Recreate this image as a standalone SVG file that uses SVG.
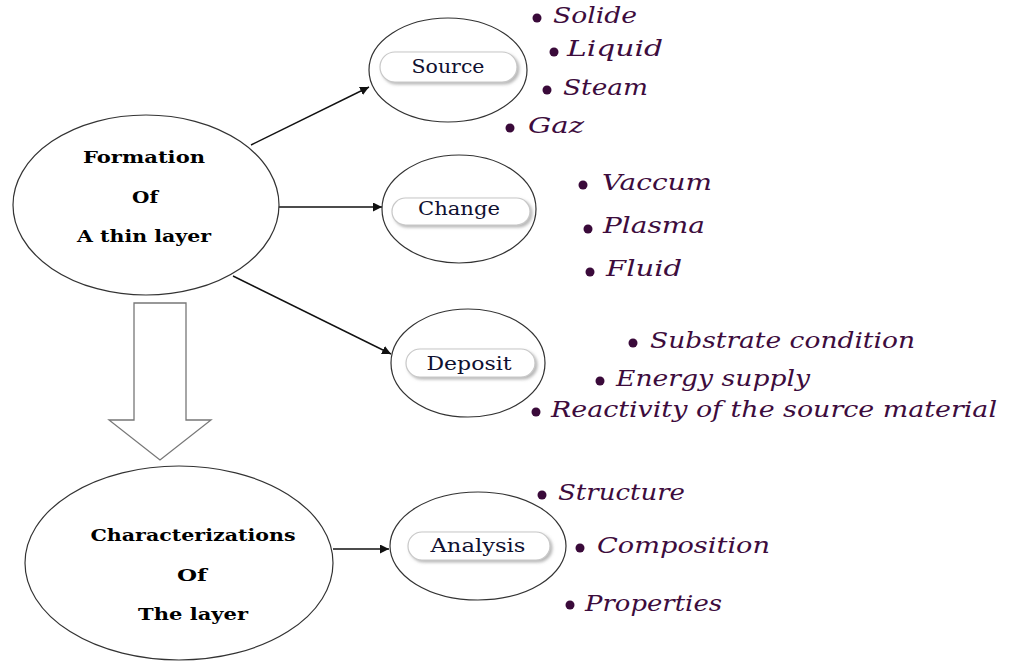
<svg xmlns="http://www.w3.org/2000/svg" width="1009" height="661" viewBox="0 0 1009 661">
<defs>
<style>
.ell{fill:#fff;stroke:#333;stroke-width:1.2}
.big{font-family:"DejaVu Serif","Liberation Serif",serif;font-weight:bold;font-size:17px;fill:#000;text-anchor:middle}
.pill{fill:#fff;stroke:#c8c8c8;stroke-width:1.2;filter:url(#sh)}
.pl{font-family:"DejaVu Serif","Liberation Serif",serif;font-size:18px;fill:#101030;text-anchor:middle}
.it{font-family:"DejaVu Serif","Liberation Serif",serif;font-style:italic;font-size:22px;fill:#3d0c3d}
.dot{fill:#3a0a3a}
.con{stroke:#111;stroke-width:1.4;fill:none;marker-end:url(#ah)}
</style>
<filter id="sh" x="-10%" y="-30%" width="125%" height="170%">
<feDropShadow dx="2" dy="2" stdDeviation="1.5" flood-color="#888" flood-opacity="0.6"/>
</filter>
<marker id="ah" viewBox="0 0 10 10" refX="10" refY="5" markerWidth="9" markerHeight="9" markerUnits="userSpaceOnUse" orient="auto">
<path d="M0,0 L10,5 L0,10 Z" fill="#111"/>
</marker>
</defs>
<rect width="1009" height="661" fill="#fff"/>

<g id="connectors">
<line class="con" x1="251" y1="145" x2="369" y2="87"/>
<line class="con" x1="279" y1="207" x2="382" y2="207"/>
<line class="con" x1="233" y1="276" x2="391" y2="354"/>
<line class="con" x1="333" y1="549" x2="389" y2="549"/>
<path d="M134,303 L186,303 L186,420 L211,420 L160,460 L109,420 L134,420 Z" fill="#fff" stroke="#777" stroke-width="1.3"/>
</g>

<g id="formation">
<ellipse class="ell" cx="146" cy="205" rx="133" ry="90"/>
<text class="big" x="144" y="163" textLength="122" lengthAdjust="spacingAndGlyphs">Formation</text>
<text class="big" x="145" y="203" textLength="26" lengthAdjust="spacingAndGlyphs">Of</text>
<text class="big" x="144" y="242" textLength="134" lengthAdjust="spacingAndGlyphs">A thin layer</text>
</g>

<g id="characterizations">
<ellipse class="ell" cx="179" cy="563" rx="154" ry="97"/>
<text class="big" x="193" y="541" textLength="205" lengthAdjust="spacingAndGlyphs">Characterizations</text>
<text class="big" x="192" y="581" textLength="30" lengthAdjust="spacingAndGlyphs">Of</text>
<text class="big" x="193" y="620" textLength="110" lengthAdjust="spacingAndGlyphs">The layer</text>
</g>

<g id="source">
<ellipse class="ell" cx="448" cy="70" rx="79" ry="52"/>
<rect class="pill" x="380" y="52" width="137" height="30" rx="15"/>
<text class="pl" x="448" y="73" textLength="73" lengthAdjust="spacingAndGlyphs">Source</text>
</g>

<g id="change">
<ellipse class="ell" cx="459" cy="209" rx="77" ry="54"/>
<rect class="pill" x="392" y="198" width="138" height="27" rx="13.5"/>
<text class="pl" x="459" y="215" textLength="82" lengthAdjust="spacingAndGlyphs">Change</text>
</g>

<g id="deposit">
<ellipse class="ell" cx="468" cy="363" rx="77" ry="54"/>
<rect class="pill" x="406" y="349" width="129" height="28" rx="14"/>
<text class="pl" x="469" y="370" textLength="85" lengthAdjust="spacingAndGlyphs">Deposit</text>
</g>

<g id="analysis">
<ellipse class="ell" cx="478" cy="546" rx="88" ry="54"/>
<rect class="pill" x="408" y="532" width="142" height="28" rx="14"/>
<text class="pl" x="478" y="552" textLength="95" lengthAdjust="spacingAndGlyphs">Analysis</text>
</g>

<g id="source-items">
<circle class="dot" cx="537" cy="18" r="4.5"/><text class="it" x="553" y="23" textLength="84" lengthAdjust="spacingAndGlyphs">Solide</text>
<circle class="dot" cx="554" cy="52" r="4.5"/><text class="it" x="567" y="56" textLength="96" lengthAdjust="spacingAndGlyphs">Liquid</text>
<circle class="dot" cx="547" cy="90" r="4.5"/><text class="it" x="563" y="95" textLength="85" lengthAdjust="spacingAndGlyphs">Steam</text>
<circle class="dot" cx="510" cy="128" r="4.5"/><text class="it" x="528" y="133" textLength="56" lengthAdjust="spacingAndGlyphs">Gaz</text>
</g>

<g id="change-items">
<circle class="dot" cx="583" cy="185" r="4.5"/><text class="it" x="602" y="190" textLength="110" lengthAdjust="spacingAndGlyphs">Vaccum</text>
<circle class="dot" cx="588" cy="229" r="4.5"/><text class="it" x="603" y="233" textLength="102" lengthAdjust="spacingAndGlyphs">Plasma</text>
<circle class="dot" cx="590" cy="272" r="4.5"/><text class="it" x="606" y="276" textLength="76" lengthAdjust="spacingAndGlyphs">Fluid</text>
</g>

<g id="deposit-items">
<circle class="dot" cx="633" cy="343" r="4.5"/><text class="it" x="650" y="348" textLength="265" lengthAdjust="spacingAndGlyphs">Substrate condition</text>
<circle class="dot" cx="600" cy="381" r="4.5"/><text class="it" x="616" y="386" textLength="194" lengthAdjust="spacingAndGlyphs">Energy supply</text>
<circle class="dot" cx="536" cy="412" r="4.5"/><text class="it" x="551" y="417" textLength="446" lengthAdjust="spacingAndGlyphs">Reactivity of the source material</text>
</g>

<g id="analysis-items">
<circle class="dot" cx="542" cy="495" r="4.5"/><text class="it" x="558" y="500" textLength="127" lengthAdjust="spacingAndGlyphs">Structure</text>
<circle class="dot" cx="580" cy="548" r="4.5"/><text class="it" x="597" y="553" textLength="173" lengthAdjust="spacingAndGlyphs">Composition</text>
<circle class="dot" cx="570" cy="605" r="4.5"/><text class="it" x="585" y="611" textLength="137" lengthAdjust="spacingAndGlyphs">Properties</text>
</g>
</svg>
